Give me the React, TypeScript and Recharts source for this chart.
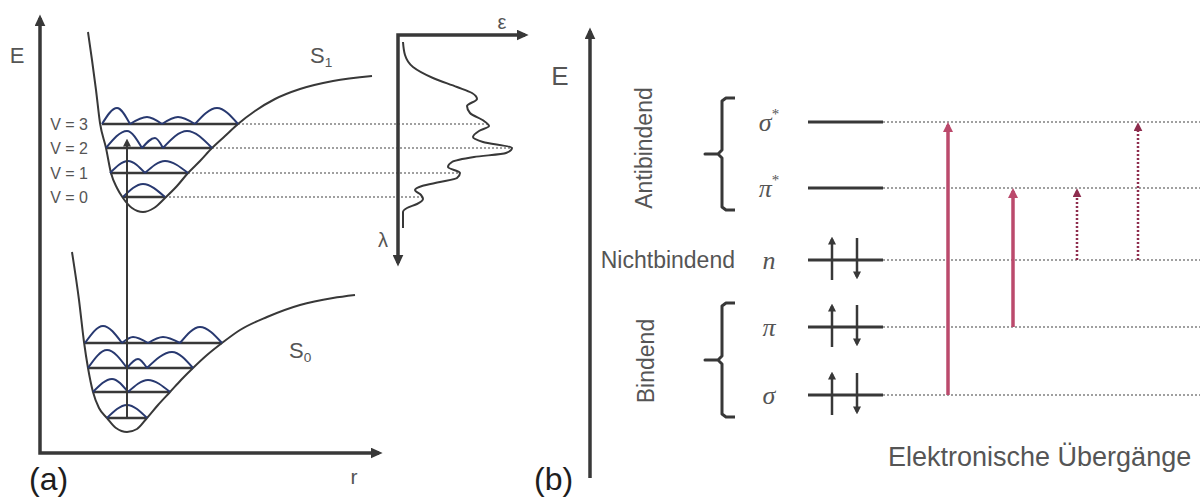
import React from "react";
import { ComposedChart, Line, Scatter, XAxis, YAxis } from "recharts";

const SANS = '"Liberation Sans", Arial, Helvetica, sans-serif';
const SERIF = '"Liberation Serif", "DejaVu Serif", "Times New Roman", serif';
const INK = "#383838";
const LABEL = "#555";
const TAG = "#1e1e1e";
const WAVE = "#283970";
const GUIDE = "#a0a0a0";
const ALLOWED = "#bb4a6c";
const FORBIDDEN = "#8e2d4e";

// ---------- (a) potential curves: r (Å) against E (arbitrary units) ----------
const s0Curve: [number, number][] = [
  [0.32, 2.01], [0.39, 1.53], [0.44, 1.11], [0.48, 0.85], [0.53, 0.61], [0.59, 0.45],
  [0.67, 0.35], [0.76, 0.25], [0.87, 0.21], [0.97, 0.24], [1.07, 0.35], [1.18, 0.48],
  [1.30, 0.61], [1.41, 0.73], [1.53, 0.85], [1.67, 0.98], [1.82, 1.10], [2.0, 1.23],
  [2.27, 1.36], [2.6, 1.48], [2.93, 1.55], [3.15, 1.58],
];
const s1Curve: [number, number][] = [
  [0.48, 4.21], [0.52, 3.93], [0.56, 3.63], [0.6, 3.3], [0.66, 3.05], [0.71, 2.8],
  [0.77, 2.65], [0.83, 2.55], [0.92, 2.45], [1.03, 2.41], [1.14, 2.45], [1.25, 2.55],
  [1.37, 2.67], [1.48, 2.8], [1.6, 2.92], [1.72, 3.05], [1.85, 3.17], [1.98, 3.29],
  [2.15, 3.42], [2.35, 3.54], [2.6, 3.64], [2.93, 3.72], [3.32, 3.77],
];

// vibrational levels v = 0..3, nodes of each wavefunction, hump maxima and heights
const s0Levels = [0.35, 0.61, 0.85, 1.1];
const s0Nodes = [[0.67, 1.07], [0.53, 0.88, 1.3], [0.48, 0.87, 1.07, 1.53], [0.45, 0.82, 1.08, 1.4, 1.82]];
const s0Peaks = [[0.87], [0.72, 1.08], [0.67, 0.98, 1.32], [0.63, 0.93, 1.23, 1.6]];
const s0Amps = [[0.13], [0.13, 0.12], [0.18, 0.09, 0.16], [0.17, 0.06, 0.06, 0.16]];

const s1Levels = [2.56, 2.8, 3.05, 3.29];
const s1Nodes = [[0.83, 1.25], [0.7, 1.05, 1.48], [0.66, 1.02, 1.23, 1.72], [0.62, 0.9, 1.22, 1.55, 1.98]];
const s1Peaks = [[1.03], [0.88, 1.25], [0.87, 1.15, 1.47], [0.77, 1.07, 1.38, 1.77]];
const s1Amps = [[0.13], [0.12, 0.12], [0.17, 0.1, 0.17], [0.16, 0.07, 0.07, 0.16]];

// r where each S1 level meets its band in the spectrum
const bandReach = [3.83, 4.2, 4.72, 4.49];
const excitation = { r: 0.87, from: 0.35, to: 3.12 };

// ---------- absorption spectrum: ε against λ (nm) ----------
const spectrum: [number, number][] = [
  [0.05, 207], [0.07, 220], [0.15, 232], [0.35, 243], [0.59, 252], [0.74, 258],
  [0.79, 264], [0.69, 271], [0.72, 278], [0.86, 286], [0.91, 291], [0.81, 296],
  [0.75, 302], [0.85, 307], [1.14, 313], [1.08, 318], [0.76, 322], [0.54, 327],
  [0.5, 332], [0.62, 338], [0.59, 343], [0.42, 347], [0.24, 351], [0.17, 355],
  [0.23, 360], [0.25, 364], [0.19, 369], [0.09, 373], [0.05, 377], [0.05, 393],
];

// ---------- (b) molecular orbitals ----------
const orbitals = ["σ", "π", "n", "π", "σ"];
const antibonding = [true, true, false, false, false];
const orbitalEnergy = [3.56, 2.9, 2.18, 1.51, 0.83];
const occupied = [false, false, true, true, true];
const transitions = [
  { from: 4, to: 0, x: 3.58, allowed: true },
  { from: 3, to: 1, x: 4.23, allowed: true },
  { from: 2, to: 1, x: 4.87, allowed: false },
  { from: 2, to: 0, x: 5.48, allowed: false },
];
const braces = [
  { top: 3.8, bottom: 2.68 },
  { top: 1.75, bottom: 0.61 },
];
const groupLabels = [
  { x: 0.54, E: 3.3, text: "Antibindend" },
  { x: 0.56, E: 1.17, text: "Bindend" },
];

const pts = (arr: [number, number][]) => arr.map(([r, E]) => ({ r, E }));

// one hump per node interval; a null between humps keeps the cusps sharp
function waveRow(base: number, nodes: number[], peaks: number[], amps: number[]) {
  const out: { r: number; E: number | null }[] = [];
  peaks.forEach((peak, i) => {
    if (i > 0) out.push({ r: nodes[i], E: null });
    out.push({ r: nodes[i], E: base }, { r: peak, E: base + amps[i] }, { r: nodes[i + 1], E: base });
  });
  return out;
}

function braceRow(top: number, bottom: number) {
  const mid = (top + bottom) / 2;
  const path: [number, number][] = [
    [1.45, top], [1.36, top], [1.32, top - 0.03], [1.32, mid + 0.04], [1.28, mid], [1.15, mid],
    [1.28, mid], [1.32, mid - 0.04], [1.32, bottom + 0.03], [1.36, bottom], [1.45, bottom],
  ];
  return path.map(([x, E]) => ({ x, E }));
}

function Head({ id, color, len, wide }: { id: string; color: string; len: number; wide: number }) {
  return (
    <marker
      id={id}
      viewBox={`0 0 ${len} ${wide}`}
      refX={len * 0.7}
      refY={wide / 2}
      markerWidth={len}
      markerHeight={wide}
      markerUnits="userSpaceOnUse"
      orient="auto-start-reverse"
    >
      <path d={`M0,0L${len},${wide / 2}L0,${wide}Z`} fill={color} />
    </marker>
  );
}

const textMark =
  (size: number, anchor: "start" | "middle" | "end" = "middle", opts: { rotate?: number; fill?: string } = {}) =>
  (p: any) => (
    <text
      x={p.cx}
      y={p.cy}
      fontFamily={SANS}
      fontSize={size}
      fill={opts.fill ?? LABEL}
      textAnchor={anchor}
      dominantBaseline="central"
      transform={opts.rotate ? `rotate(${opts.rotate} ${p.cx} ${p.cy})` : undefined}
    >
      {p.payload.text}
      {p.payload.sub ? (
        <tspan fontSize={size * 0.62} dy={size * 0.32}>
          {p.payload.sub}
        </tspan>
      ) : null}
    </text>
  );

const greekMark = (p: any) => (
  <text x={p.cx} y={p.cy} fontFamily={SERIF} fontSize={26} fontStyle="italic" fill={LABEL} textAnchor="middle" dominantBaseline="central">
    {p.payload.text}
    {p.payload.star ? (
      <tspan fontStyle="normal" fontSize={15} dy={-8}>
        *
      </tspan>
    ) : null}
  </text>
);

const common = { dot: false, activeDot: false, isAnimationActive: false, legendType: "none" as const };

function PotentialPanel() {
  const vLabels = s1Levels.map((E, v) => ({ r: 0.48, E, text: `V = ${v}` }));
  const states = [
    { r: 2.7, E: 3.98, text: "S", sub: "1" },
    { r: 2.49, E: 1.03, text: "S", sub: "0" },
  ];
  const s0Rows = s0Levels.map((E, v) => ({ E, nodes: s0Nodes[v], peaks: s0Peaks[v], amps: s0Amps[v] }));
  const s1Rows = s1Levels.map((E, v) => ({ E, nodes: s1Nodes[v], peaks: s1Peaks[v], amps: s1Amps[v] }));
  const rows = [...s0Rows, ...s1Rows];

  return (
    <ComposedChart width={540} height={497} margin={{ top: 0, right: 0, bottom: 0, left: 0 }}>
      <defs>
        <Head id="headAxisA" color={INK} len={12} wide={11} />
        <Head id="headExcite" color={INK} len={8} wide={8} />
      </defs>
      <XAxis type="number" dataKey="r" domain={[-0.4, 5.0]} hide allowDataOverflow />
      <YAxis type="number" dataKey="E" domain={[-0.44, 4.53]} hide allowDataOverflow />

      <Line
        {...common}
        data={pts([[0, 4.35], [0, 0], [3.39, 0]])}
        dataKey="E"
        type="linear"
        stroke={INK}
        strokeWidth={3.5}
        markerStart="url(#headAxisA)"
        markerEnd="url(#headAxisA)"
      />

      {bandReach.map((reach, v) => (
        <Line
          {...common}
          key={`guide-${v}`}
          data={[
            { r: s1Nodes[v][s1Nodes[v].length - 1], E: s1Levels[v] },
            { r: reach, E: s1Levels[v] },
          ]}
          dataKey="E"
          type="linear"
          stroke={GUIDE}
          strokeWidth={2}
          strokeDasharray="2 2"
        />
      ))}

      <Line {...common} data={pts(s0Curve)} dataKey="E" type="monotone" stroke={INK} strokeWidth={2} />
      <Line {...common} data={pts(s1Curve)} dataKey="E" type="monotone" stroke={INK} strokeWidth={2} />

      {rows.map((row, i) => (
        <Line
          {...common}
          key={`level-${i}`}
          data={[
            { r: row.nodes[0], E: row.E },
            { r: row.nodes[row.nodes.length - 1], E: row.E },
          ]}
          dataKey="E"
          type="linear"
          stroke={INK}
          strokeWidth={2.5}
        />
      ))}
      {rows.map((row, i) => (
        <Line
          {...common}
          key={`wave-${i}`}
          data={waveRow(row.E, row.nodes, row.peaks, row.amps)}
          dataKey="E"
          type="monotone"
          stroke={WAVE}
          strokeWidth={2}
        />
      ))}

      <Line
        {...common}
        data={[
          { r: excitation.r, E: excitation.from },
          { r: excitation.r, E: excitation.to },
        ]}
        dataKey="E"
        type="linear"
        stroke={INK}
        strokeWidth={2}
        markerEnd="url(#headExcite)"
      />

      <Scatter isAnimationActive={false} data={vLabels} shape={textMark(16, "end")} />
      <Scatter isAnimationActive={false} data={states} shape={textMark(22, "start")} />
      <Scatter isAnimationActive={false} data={[{ r: -0.23, E: 3.98, text: "E" }]} shape={textMark(22)} />
      <Scatter isAnimationActive={false} data={[{ r: 3.14, E: -0.23, text: "r" }]} shape={textMark(21)} />
      <Scatter isAnimationActive={false} data={[{ r: -0.11, E: -0.26, text: "(a)" }]} shape={textMark(32, "start", { fill: TAG })} />
    </ComposedChart>
  );
}

function SpectrumPanel() {
  const curve = spectrum.map(([eps, lam]) => ({ eps, lam }));
  return (
    <ComposedChart width={170} height={280} margin={{ top: 0, right: 0, bottom: 0, left: 0 }}>
      <defs>
        <Head id="headAxisS" color={INK} len={12} wide={11} />
      </defs>
      <XAxis type="number" dataKey="eps" domain={[-0.28, 1.42]} hide allowDataOverflow />
      <YAxis type="number" dataKey="lam" domain={[165, 445]} reversed hide allowDataOverflow />
      <Line
        {...common}
        data={[
          { eps: 1.27, lam: 200 },
          { eps: 0, lam: 200 },
          { eps: 0, lam: 428 },
        ]}
        dataKey="lam"
        type="linear"
        stroke={INK}
        strokeWidth={3.5}
        markerStart="url(#headAxisS)"
        markerEnd="url(#headAxisS)"
      />
      <Line {...common} data={curve} dataKey="lam" type="monotoneY" stroke={INK} strokeWidth={2} />
      <Scatter isAnimationActive={false} data={[{ eps: 1.04, lam: 187, text: "ε" }]} shape={textMark(20)} />
      <Scatter isAnimationActive={false} data={[{ eps: -0.15, lam: 405, text: "λ" }]} shape={textMark(20)} />
    </ComposedChart>
  );
}

function OrbitalPanel() {
  const orbitalLabels = orbitals.map((text, i) => ({ x: 1.79, E: orbitalEnergy[i], text, star: antibonding[i] }));
  const spins = orbitalEnergy.filter((_, i) => occupied[i]);

  return (
    <ComposedChart width={703} height={497} margin={{ top: 0, right: 0, bottom: 0, left: 0 }}>
      <defs>
        <Head id="headAxisB" color={INK} len={12} wide={11} />
        <Head id="headSpin" color={INK} len={8} wide={8} />
        <Head id="headAllowed" color={ALLOWED} len={10} wide={10} />
        <Head id="headForbidden" color={FORBIDDEN} len={9} wide={9} />
      </defs>
      <XAxis type="number" dataKey="x" domain={[-0.9, 6.13]} hide allowDataOverflow />
      <YAxis type="number" dataKey="E" domain={[-0.19, 4.78]} hide allowDataOverflow />

      <Line
        {...common}
        data={[
          { x: 0, E: 0 },
          { x: 0, E: 4.47 },
        ]}
        dataKey="E"
        type="linear"
        stroke={INK}
        strokeWidth={3.5}
        markerEnd="url(#headAxisB)"
      />

      {orbitalEnergy.map((E, i) => (
        <Line
          {...common}
          key={`guide-${i}`}
          data={[
            { x: 2.93, E },
            { x: 6.1, E },
          ]}
          dataKey="E"
          type="linear"
          stroke={GUIDE}
          strokeWidth={2}
          strokeDasharray="2 2"
        />
      ))}
      {orbitalEnergy.map((E, i) => (
        <Line
          {...common}
          key={`level-${i}`}
          data={[
            { x: 2.18, E },
            { x: 2.93, E },
          ]}
          dataKey="E"
          type="linear"
          stroke={INK}
          strokeWidth={3}
        />
      ))}

      {spins.map((E, i) => (
        <Line
          {...common}
          key={`up-${i}`}
          data={[
            { x: 2.42, E: E - 0.2 },
            { x: 2.42, E: E + 0.21 },
          ]}
          dataKey="E"
          type="linear"
          stroke={INK}
          strokeWidth={2.5}
          markerEnd="url(#headSpin)"
        />
      ))}
      {spins.map((E, i) => (
        <Line
          {...common}
          key={`down-${i}`}
          data={[
            { x: 2.67, E: E + 0.22 },
            { x: 2.67, E: E - 0.17 },
          ]}
          dataKey="E"
          type="linear"
          stroke={INK}
          strokeWidth={2.5}
          markerEnd="url(#headSpin)"
        />
      ))}

      {braces.map((b, i) => (
        <Line
          {...common}
          key={`brace-${i}`}
          data={braceRow(b.top, b.bottom)}
          dataKey="E"
          type="linear"
          stroke={INK}
          strokeWidth={3}
          strokeLinejoin="round"
        />
      ))}

      {transitions.map((t, i) => (
        <Line
          {...common}
          key={`trans-${i}`}
          data={[
            { x: t.x, E: orbitalEnergy[t.from] },
            { x: t.x, E: orbitalEnergy[t.to] - 0.03 },
          ]}
          dataKey="E"
          type="linear"
          stroke={t.allowed ? ALLOWED : FORBIDDEN}
          strokeWidth={t.allowed ? 3.5 : 2.5}
          strokeDasharray={t.allowed ? undefined : "2 2"}
          markerEnd={t.allowed ? "url(#headAllowed)" : "url(#headForbidden)"}
        />
      ))}

      <Scatter isAnimationActive={false} data={orbitalLabels} shape={greekMark} />
      <Scatter isAnimationActive={false} data={groupLabels} shape={textMark(23, "middle", { rotate: -90 })} />
      <Scatter isAnimationActive={false} data={[{ x: 1.45, E: 2.18, text: "Nichtbindend" }]} shape={textMark(23, "end")} />
      <Scatter isAnimationActive={false} data={[{ x: -0.3, E: 4.02, text: "E" }]} shape={textMark(26)} />
      <Scatter isAnimationActive={false} data={[{ x: 2.98, E: 0.21, text: "Elektronische Übergänge" }]} shape={textMark(27, "start")} />
      <Scatter isAnimationActive={false} data={[{ x: -0.56, E: -0.01, text: "(b)" }]} shape={textMark(32, "start", { fill: TAG })} />
    </ComposedChart>
  );
}

export default function App() {
  return (
    <div style={{ position: "absolute", left: 0, top: 0, width: 1203, height: 497, background: "#fff", fontFamily: SANS }}>
      <div style={{ position: "absolute", left: 0, top: 0 }}>
        <PotentialPanel />
      </div>
      <div style={{ position: "absolute", left: 370, top: 0 }}>
        <SpectrumPanel />
      </div>
      <div style={{ position: "absolute", left: 500, top: 0 }}>
        <OrbitalPanel />
      </div>
    </div>
  );
}
